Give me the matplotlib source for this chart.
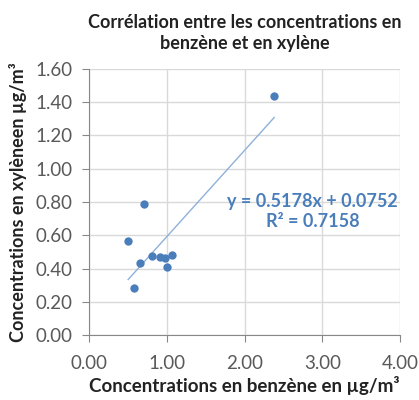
import numpy as np
import matplotlib.pyplot as plt

# Data
benzene = [2.38, 0.70, 0.50, 0.65, 0.57, 0.81, 0.91, 0.975, 1.07, 1.00]
xylene = [1.434, 0.789, 0.567, 0.432, 0.282, 0.476, 0.472, 0.462, 0.484, 0.407]
slope = 0.5178
intercept = 0.0752
r2 = 0.7158

x_ticks = [0, 1, 2, 3, 4]
y_ticks = [0, 0.2, 0.4, 0.6, 0.8, 1.0, 1.2, 1.4, 1.6]

plt.rcParams['font.family'] = ['Lato', 'DejaVu Sans']

fig = plt.figure(figsize=(4.19, 4.0), dpi=100)
ax = fig.add_axes([0.213, 0.162, 0.742, 0.666])

blue = '#4a7ebb'
ax.scatter(benzene, xylene, s=36, color=blue, zorder=3, linewidths=0)

# linear trendline over the data range
xs = np.array([min(benzene), max(benzene)])
ax.plot(xs, slope * xs + intercept, color='#8fb0d9', lw=1.0, zorder=2)

ax.text(2.87, 0.805, f'y = {slope:.4f}x + {intercept:.4f}', color=blue,
        fontsize=13, fontweight='bold', ha='center', va='center')
ax.text(2.87, 0.685, f'R² = {r2:.4f}', color=blue,
        fontsize=13, fontweight='bold', ha='center', va='center')

ax.set_xlim(0, 4)
ax.set_ylim(0, 1.6)
ax.set_xticks(x_ticks)
ax.set_yticks(y_ticks)
ax.set_xticklabels([f'{v:.2f}' for v in x_ticks])
ax.set_yticklabels([f'{v:.2f}' for v in y_ticks])
ax.tick_params(axis='both', labelsize=13.5, colors='#888888', labelcolor='#595959',
               direction='out', length=5, width=0.8)
ax.tick_params(axis='y', pad=7)
ax.tick_params(axis='x', pad=9)

ax.grid(True, color='#d9d9d9', lw=1.0)
ax.set_axisbelow(True)
for side in ['top', 'right']:
    ax.spines[side].set_visible(False)
for side in ['left', 'bottom']:
    ax.spines[side].set_color('#888888')
    ax.spines[side].set_linewidth(0.8)

ax.set_xlabel('Concentrations en benzène en µg/m³', fontsize=13.5,
              fontweight='bold', color='#222222', labelpad=3)
ax.set_ylabel('Concentrations en xylèneen µg/m³', fontsize=13,
              fontweight='bold', color='#222222', labelpad=6)
ax.set_title('Corrélation entre les concentrations en\nbenzène et en xylène',
             fontsize=13, fontweight='bold', color='#222222', pad=14,
             linespacing=1.3)

fig.savefig('out.png', dpi=100)
